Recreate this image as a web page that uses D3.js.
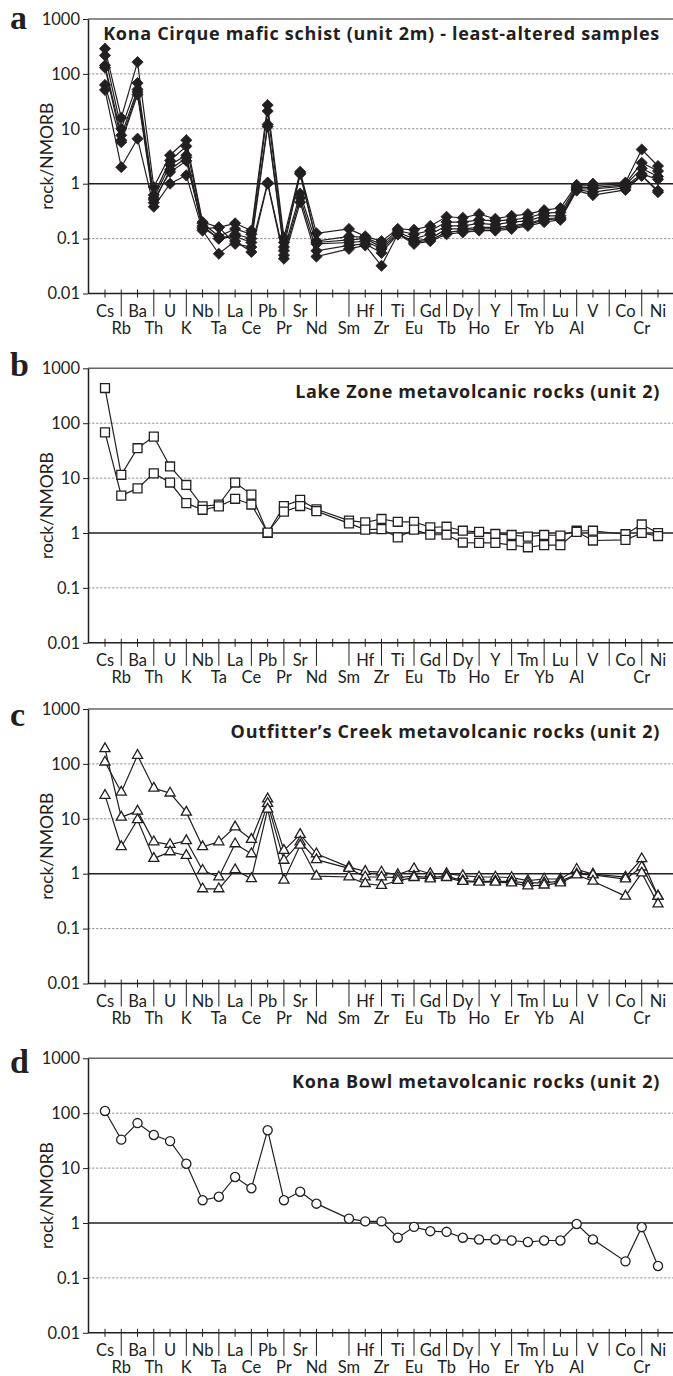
<!DOCTYPE html>
<html>
<head>
<meta charset="utf-8">
<script src="https://cdn.jsdelivr.net/npm/d3@7"></script>
<style>
  html, body { margin: 0; padding: 0; background: #fff; }
  svg { display: block; }
  text { font-family: Lato, "Open Sans", sans-serif; fill: #231f20; }
</style>
</head>
<body>
<svg id="chart" width="673" height="1376"></svg>
<script>
// Element order along the x axis; empty strings are unlabelled slots.
const elements = ["Cs","Rb","Ba","Th","U","K","Nb","Ta","La","Ce","Pb","Pr","Sr","Nd","",
  "Sm","Hf","Zr","Ti","Eu","Gd","Tb","Dy","Ho","Y","Er","Tm","Yb","Lu","Al","V","",
  "Co","Cr","Ni"];

const yTicks = [0.01, 0.1, 1, 10, 100, 1000];
const yDashed = [0.1, 10, 100];

// (a) Kona Cirque mafic schist, least-altered samples
const konaCirque1 = [288,15.9,164,0.87,3.3,6.2,0.20,0.16,0.19,0.14,27,0.105,1.65,0.125,null,0.15,0.11,0.09,0.15,0.145,0.17,0.25,0.24,0.28,0.23,0.26,0.28,0.33,0.36,0.95,1.0,null,1.05,4.2,2.1];
const konaCirque2 = [217,10,68,0.62,2.65,4.8,0.19,0.11,0.15,0.12,21,0.085,1.55,0.09,null,0.11,0.105,0.078,0.14,0.12,0.14,0.2,0.2,0.22,0.21,0.22,0.24,0.29,0.3,0.9,0.92,null,1.0,2.4,1.7];
const konaCirque3 = [143,7.6,52,0.55,2.2,3.3,0.17,0.1,0.12,0.1,12,0.07,1.5,0.085,null,0.095,0.1,0.07,0.13,0.1,0.12,0.17,0.17,0.19,0.18,0.2,0.21,0.26,0.26,0.85,0.85,null,0.95,1.9,1.35];
const konaCirque4 = [130,6.2,47,0.51,1.63,2.6,0.16,0.1,0.11,0.085,11,0.06,0.66,0.08,null,0.085,0.09,0.065,0.12,0.09,0.1,0.15,0.15,0.16,0.16,0.17,0.19,0.23,0.24,0.8,0.8,null,0.9,1.5,1.2];
const konaCirque5 = [63,5.7,42,0.45,1.8,3.0,0.15,0.16,0.08,0.07,1.05,0.05,0.55,0.06,null,0.075,0.08,0.055,0.12,0.085,0.095,0.13,0.14,0.15,0.15,0.16,0.18,0.22,0.23,0.78,0.7,null,0.85,1.4,0.75];
const konaCirque6 = [51,2.0,6.6,0.38,1.0,1.42,0.14,0.053,0.09,0.057,1.0,0.043,0.46,0.047,null,0.065,0.075,0.032,0.12,0.08,0.09,0.12,0.13,0.14,0.14,0.15,0.17,0.2,0.22,0.75,0.62,null,0.77,1.4,0.7];

// (b) Lake Zone metavolcanic rocks
const lakeZone1 = [437,11.5,35,57,16.3,7.5,3.05,3.3,8.3,5.0,1.0,3.1,4.0,2.7,null,1.68,1.56,1.8,1.6,1.6,1.27,1.3,1.1,1.05,0.96,0.92,0.86,0.92,0.9,1.1,1.1,null,0.95,1.43,1.0];
const lakeZone2 = [68,4.8,6.5,12.2,8.3,3.5,2.65,3.05,4.2,3.3,1.02,2.45,3.1,2.5,null,1.5,1.15,1.18,0.83,1.15,0.93,0.93,0.67,0.66,0.66,0.6,0.55,0.6,0.6,1.05,0.73,null,0.75,1.0,0.88];

// (c) Outfitter's Creek metavolcanic rocks
const outfitters1 = [108,30.6,143,36,29.4,13.2,3.1,3.8,7.1,4.2,23,2.65,5.2,2.3,null,1.32,1.1,1.07,0.96,1.23,1.0,1.0,0.92,0.87,0.87,0.85,0.75,0.8,0.8,1.2,0.98,null,0.87,1.87,0.39];
const outfitters2 = [189,10.7,13.8,3.8,3.4,4.0,1.15,0.87,3.5,2.3,19,1.75,3.8,1.8,null,1.25,0.87,0.87,0.85,0.9,0.85,0.9,0.75,0.72,0.73,0.72,0.68,0.68,0.73,0.98,0.95,null,0.8,1.32,0.39];
const outfitters3 = [26.7,3.1,9.6,1.9,2.5,2.15,0.53,0.53,1.18,0.81,15,0.76,3.3,0.9,null,0.87,0.66,0.61,0.75,0.85,0.8,0.85,0.72,0.7,0.7,0.68,0.6,0.62,0.68,0.95,0.73,null,0.39,1.03,0.28];

// (d) Kona Bowl metavolcanic rocks
const konaBowl = [110,33,66,40,31,12,2.6,3.0,6.9,4.3,49,2.6,3.7,2.25,null,1.2,1.07,1.07,0.54,0.85,0.71,0.69,0.54,0.50,0.50,0.48,0.45,0.48,0.48,0.96,0.50,null,0.20,0.84,0.165];

const panels = [
  { letter: "a", title: "Kona Cirque mafic schist (unit 2m) - least-altered samples",
    series: [konaCirque1, konaCirque2, konaCirque3, konaCirque4, konaCirque5, konaCirque6],
    marker: "diamond", top: 19, titleDy: 21, letterY: 29 },
  { letter: "b", title: "Lake Zone metavolcanic rocks (unit 2)",
    series: [lakeZone1, lakeZone2], marker: "square", top: 368.3, titleDy: 30, letterY: 376 },
  { letter: "c", title: "Outfitter\u2019s Creek metavolcanic rocks (unit 2)",
    series: [outfitters1, outfitters2, outfitters3], marker: "triangle", top: 709, titleDy: 29, letterY: 726 },
  { letter: "d", title: "Kona Bowl metavolcanic rocks (unit 2)",
    series: [konaBowl], marker: "circle", top: 1058.3, titleDy: 30, letterY: 1073 }
];

const ink = "#231f20";
const svg = d3.select("#chart");
const plotLeft = 88, plotRight = 673, plotHeight = 274.5;

const x = d3.scalePoint().domain(d3.range(elements.length)).range([105, 658]);

const symbols = {
  diamond:  d3.symbol().type(d3.symbolDiamond2).size(80),
  square:   d3.symbol().type(d3.symbolSquare).size(80),
  triangle: d3.symbol().type(d3.symbolTriangle).size(44),
  circle:   d3.symbol().type(d3.symbolCircle).size(66)
};

panels.forEach(p => {
  const bottom = p.top + plotHeight;
  const y = d3.scaleLog().domain([0.01, 1000]).range([bottom, p.top]);
  const g = svg.append("g");

  // dashed reference lines
  g.selectAll("line.grid").data(yDashed).join("line")
    .attr("x1", plotLeft).attr("x2", plotRight)
    .attr("y1", d => y(d)).attr("y2", d => y(d))
    .attr("stroke", "#7a7a7a").attr("stroke-width", 0.8)
    .attr("stroke-dasharray", "2.5,1.5");

  // top frame line
  g.append("line")
    .attr("x1", plotLeft).attr("x2", plotRight)
    .attr("y1", y(1000)).attr("y2", y(1000))
    .attr("stroke", "#666").attr("stroke-width", 1.4);

  // unity line
  g.append("line")
    .attr("x1", plotLeft).attr("x2", plotRight)
    .attr("y1", y(1)).attr("y2", y(1))
    .attr("stroke", ink).attr("stroke-width", 1.5);

  // y axis
  const yAxis = d3.axisLeft(y).tickValues(yTicks).tickFormat(d => String(d))
    .tickSizeInner(5).tickSizeOuter(0).tickPadding(3);
  const ya = g.append("g").attr("transform", `translate(${plotLeft},0)`).call(yAxis);
  ya.select(".domain").attr("stroke", ink).attr("stroke-width", 1.5);
  ya.selectAll(".tick line").attr("stroke", ink).attr("stroke-width", 1);
  ya.selectAll(".tick text").attr("font-size", 16.5).attr("font-family", "Lato, sans-serif").attr("fill", ink);

  // x axis baseline
  g.append("line")
    .attr("x1", plotLeft).attr("x2", plotRight)
    .attr("y1", bottom).attr("y2", bottom)
    .attr("stroke", ink).attr("stroke-width", 1.5);

  // x ticks: short ticks for the upper label row, long separators for the lower row
  const xt = g.selectAll("g.xtick").data(elements.map((e, i) => ({ e, i }))).join("g")
    .attr("transform", d => `translate(${x(d.i)},${bottom})`);
  xt.append("line")
    .attr("y1", -4).attr("y2", d => d.i % 2 === 0 ? 4 : 23)
    .attr("stroke", ink).attr("stroke-width", 1);
  xt.append("text")
    .attr("text-anchor", "middle")
    .attr("y", d => d.i % 2 === 0 ? 23 : 40)
    .attr("font-size", 16.5)
    .text(d => d.e);

  // series lines and markers
  p.series.forEach(values => {
    const pts = values.map((v, i) => ({ i, v })).filter(d => d.v != null);
    g.append("path").datum(pts)
      .attr("fill", "none").attr("stroke", ink).attr("stroke-width", 1.2)
      .attr("d", d3.line().x(d => x(d.i)).y(d => y(d.v)));
  });
  p.series.forEach(values => {
    const pts = values.map((v, i) => ({ i, v })).filter(d => d.v != null);
    g.selectAll(null).data(pts).join("path")
      .attr("transform", d => `translate(${x(d.i)},${y(d.v)})`)
      .attr("d", symbols[p.marker])
      .attr("fill", p.marker === "diamond" ? ink : "#fff")
      .attr("stroke", ink)
      .attr("stroke-width", p.marker === "diamond" ? 0.8 : 1.3);
  });

  // title
  g.append("text")
    .attr("x", 660).attr("y", p.top + p.titleDy)
    .attr("text-anchor", "end")
    .style("font-family", "'Open Sans', Lato, sans-serif")
    .style("letter-spacing", "0.7px")
    .attr("font-size", 18).attr("font-weight", 700)
    .text(p.title);

  // panel letter
  g.append("text")
    .attr("x", 10).attr("y", p.letterY)
    .style("font-family", "'Liberation Serif', 'DejaVu Serif', serif")
    .attr("font-size", 34).attr("font-weight", 700)
    .text(p.letter);

  // y axis title
  g.append("text")
    .attr("transform", `translate(52.5,${(p.top + bottom) / 2}) rotate(-90)`)
    .attr("text-anchor", "middle")
    .attr("font-size", 17.5)
    .text("rock/NMORB");
});
</script>
</body>
</html>
